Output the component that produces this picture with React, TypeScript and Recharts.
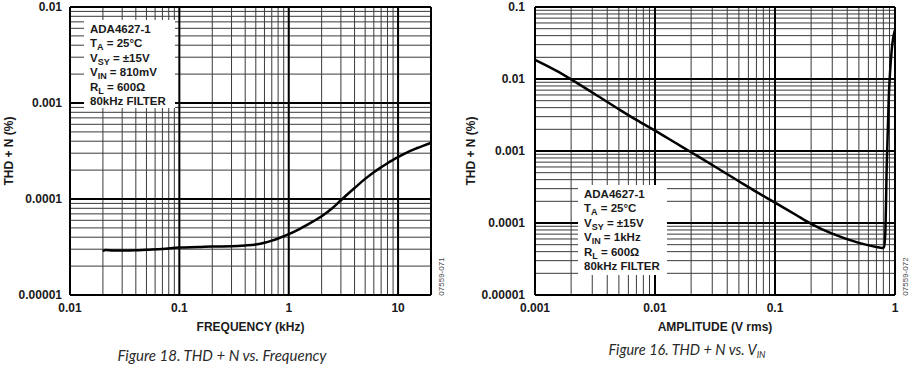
import React from "react";
import {
  LineChart,
  Line,
  XAxis,
  YAxis,
  CartesianGrid,
  ReferenceLine,
} from "recharts";

// Figure 18: THD + N vs. frequency
const freqKHz = [
  0.02, 0.021, 0.025, 0.03, 0.04, 0.05, 0.07, 0.1, 0.15, 0.2, 0.3, 0.4, 0.5,
  0.6, 0.7, 0.8, 1, 1.2, 1.5, 2, 2.5, 3, 4, 5, 6, 7, 8, 10, 12, 15, 20,
];
const thdFreq = [
  0.0000285, 0.0000295, 0.000029, 0.000029, 0.0000292, 0.0000296, 0.0000302,
  0.0000312, 0.0000316, 0.000032, 0.0000322, 0.0000328, 0.0000336, 0.000035,
  0.0000368, 0.0000388, 0.000043, 0.0000475, 0.0000545, 0.000066, 0.00008,
  0.000097, 0.00013, 0.000162, 0.00019, 0.000214, 0.000236, 0.000273, 0.000305,
  0.00034, 0.000385,
];

// Figure 16: THD + N vs. amplitude
const ampVrms = [
  0.001, 0.0015, 0.002, 0.003, 0.005, 0.007, 0.01, 0.015, 0.02, 0.03, 0.05,
  0.07, 0.1, 0.15, 0.2, 0.3, 0.5, 0.7, 0.78, 0.81, 0.83, 0.853, 0.886, 0.939,
  1,
];
const thdAmp = [
  0.0185, 0.0131, 0.0099, 0.0065, 0.0038, 0.0027, 0.00192, 0.00128, 0.00096,
  0.00064, 0.00038, 0.00027, 0.000192, 0.000129, 0.0000975, 0.000071, 0.000053,
  0.0000465, 0.000045, 0.000046, 0.000072, 0.0006, 0.0051, 0.0253, 0.048,
];

const freqTicks = [
  0.01, 0.02, 0.03, 0.04, 0.05, 0.06, 0.07, 0.08, 0.09, 0.1, 0.2, 0.3, 0.4,
  0.5, 0.6, 0.7, 0.8, 0.9, 1, 2, 3, 4, 5, 6, 7, 8, 9, 10, 20,
];
const freqDecades = [0.01, 0.1, 1, 10];

const ampTicks = [
  0.001, 0.002, 0.003, 0.004, 0.005, 0.006, 0.007, 0.008, 0.009, 0.01, 0.02,
  0.03, 0.04, 0.05, 0.06, 0.07, 0.08, 0.09, 0.1, 0.2, 0.3, 0.4, 0.5, 0.6, 0.7,
  0.8, 0.9, 1,
];
const ampDecades = [0.001, 0.01, 0.1, 1];

const thdTicksA = [
  0.00001, 0.00002, 0.00003, 0.00004, 0.00005, 0.00006, 0.00007, 0.00008,
  0.00009, 0.0001, 0.0002, 0.0003, 0.0004, 0.0005, 0.0006, 0.0007, 0.0008,
  0.0009, 0.001, 0.002, 0.003, 0.004, 0.005, 0.006, 0.007, 0.008, 0.009, 0.01,
];
const thdDecadesA = [0.00001, 0.0001, 0.001, 0.01];

const thdTicksB = [
  ...thdTicksA.slice(0, -1),
  0.01, 0.02, 0.03, 0.04, 0.05, 0.06, 0.07, 0.08, 0.09, 0.1,
];
const thdDecadesB = [0.00001, 0.0001, 0.001, 0.01, 0.1];

const freqData = freqKHz.map((x, i) => ({ x, y: thdFreq[i] }));
const ampData = ampVrms.map((x, i) => ({ x, y: thdAmp[i] }));

const FONT = "'Liberation Sans', Arial, sans-serif";
const tickStyle = { fill: "#1a1a1a", fontSize: 12, fontWeight: 700, fontFamily: FONT };
const titleStyle = { fill: "#1a1a1a", fontSize: 12, fontWeight: 700, fontFamily: FONT };

const onlyDecades = (decades: number[]) => (v: number) =>
  decades.includes(v) ? String(v) : "";

function InfoBox({
  left,
  top,
  width,
  height,
  vin,
}: {
  left: number;
  top: number;
  width: number;
  height: number;
  vin: string;
}) {
  const sub = { fontSize: 9, verticalAlign: "-3px", lineHeight: 0 } as const;
  return (
    <div
      style={{
        position: "absolute",
        left,
        top,
        width,
        height,
        background: "#fff",
        fontFamily: FONT,
        fontWeight: 700,
        fontSize: 11.5,
        lineHeight: "14.4px",
        color: "#1a1a1a",
        paddingLeft: 6,
        paddingTop: 2,
        boxSizing: "border-box",
        whiteSpace: "nowrap",
      }}
    >
      <div>ADA4627-1</div>
      <div>
        T<span style={sub}>A</span> = 25°C
      </div>
      <div>
        V<span style={sub}>SY</span> = ±15V
      </div>
      <div>
        V<span style={sub}>IN</span> = {vin}
      </div>
      <div>
        R<span style={sub}>L</span> = 600Ω
      </div>
      <div>80kHz FILTER</div>
    </div>
  );
}

function CodeTag({ x, text }: { x: number; text: string }) {
  return (
    <div
      style={{
        position: "absolute",
        left: x - 20,
        top: 272,
        width: 40,
        textAlign: "center",
        fontFamily: FONT,
        fontSize: 8,
        color: "#444",
        transform: "rotate(-90deg)",
      }}
    >
      {text}
    </div>
  );
}

function Caption({
  cx,
  top,
  size,
  children,
}: {
  cx: number;
  top: number;
  size: number;
  children: React.ReactNode;
}) {
  return (
    <div
      style={{
        position: "absolute",
        left: cx - 150,
        top,
        width: 300,
        textAlign: "center",
        fontFamily: "Lato, 'Open Sans', sans-serif",
        fontStyle: "italic",
        fontSize: size,
        lineHeight: "20px",
        color: "#2a2a2a",
      }}
    >
      {children}
    </div>
  );
}

export default function App() {
  return (
    <div
      style={{
        position: "absolute",
        left: 0,
        top: 0,
        width: 920,
        height: 370,
        background: "#fff",
        overflow: "hidden",
      }}
    >
      <div style={{ position: "absolute", left: 0, top: 0 }}>
        <LineChart
          width={450}
          height={340}
          data={freqData}
          margin={{ top: 7, right: 19, bottom: 0, left: 0 }}
        >
          <CartesianGrid stroke="#3a3a3a" strokeWidth={1} />
          <XAxis
            dataKey="x"
            type="number"
            scale="log"
            domain={[0.01, 20]}
            ticks={freqTicks}
            interval={0}
            tickFormatter={onlyDecades(freqDecades)}
            tick={tickStyle}
            tickLine={false}
            tickSize={0}
            tickMargin={8}
            axisLine={{ stroke: "#000", strokeWidth: 2 }}
            height={45}
            allowDataOverflow
            label={{ value: "FREQUENCY (kHz)", position: "insideBottom", offset: 9, style: titleStyle }}
          />
          <YAxis
            dataKey="y"
            type="number"
            scale="log"
            domain={[0.00001, 0.01]}
            ticks={thdTicksA}
            interval={0}
            tickFormatter={onlyDecades(thdDecadesA)}
            tick={tickStyle}
            tickLine={false}
            tickSize={0}
            tickMargin={8}
            axisLine={{ stroke: "#000", strokeWidth: 2 }}
            width={70}
            allowDataOverflow
            label={{ value: "THD + N (%)", angle: -90, position: "insideLeft", offset: 9, style: { ...titleStyle, textAnchor: "middle" } }}
          />
          {freqDecades.map((d) => (
            <ReferenceLine key={"fx" + d} x={d} stroke="#000" strokeWidth={2} />
          ))}
          <ReferenceLine x={20} stroke="#000" strokeWidth={2} />
          {thdDecadesA.map((d) => (
            <ReferenceLine key={"fy" + d} y={d} stroke="#000" strokeWidth={2} />
          ))}
          <Line
            dataKey="y"
            type="monotone"
            stroke="#000"
            strokeWidth={2.5}
            dot={false}
            isAnimationActive={false}
          />
        </LineChart>
      </div>

      <div style={{ position: "absolute", left: 460, top: 0 }}>
        <LineChart
          width={450}
          height={340}
          data={ampData}
          margin={{ top: 7, right: 15, bottom: 0, left: 0 }}
        >
          <CartesianGrid stroke="#3a3a3a" strokeWidth={1} />
          <XAxis
            dataKey="x"
            type="number"
            scale="log"
            domain={[0.001, 1]}
            ticks={ampTicks}
            interval={0}
            tickFormatter={onlyDecades(ampDecades)}
            tick={tickStyle}
            tickLine={false}
            tickSize={0}
            tickMargin={8}
            axisLine={{ stroke: "#000", strokeWidth: 2 }}
            height={45}
            allowDataOverflow
            label={{ value: "AMPLITUDE (V rms)", position: "insideBottom", offset: 9, style: titleStyle }}
          />
          <YAxis
            dataKey="y"
            type="number"
            scale="log"
            domain={[0.00001, 0.1]}
            ticks={thdTicksB}
            interval={0}
            tickFormatter={onlyDecades(thdDecadesB)}
            tick={tickStyle}
            tickLine={false}
            tickSize={0}
            tickMargin={10}
            axisLine={{ stroke: "#000", strokeWidth: 2 }}
            width={75}
            allowDataOverflow
            label={{ value: "THD + N (%)", angle: -90, position: "insideLeft", offset: 11, style: { ...titleStyle, textAnchor: "middle" } }}
          />
          {ampDecades.map((d) => (
            <ReferenceLine key={"ax" + d} x={d} stroke="#000" strokeWidth={2} />
          ))}
          {thdDecadesB.map((d) => (
            <ReferenceLine key={"ay" + d} y={d} stroke="#000" strokeWidth={2} />
          ))}
          <Line
            dataKey="y"
            type="monotone"
            stroke="#000"
            strokeWidth={2.5}
            dot={false}
            isAnimationActive={false}
          />
        </LineChart>
      </div>

      <InfoBox left={84} top={20} width={91} height={88} vin="810mV" />
      <InfoBox left={578} top={185} width={89} height={90} vin="1kHz" />

      <CodeTag x={441} text="07559-071" />
      <CodeTag x={905} text="07559-072" />

      <Caption cx={222} top={345} size={15}>
        Figure 18. THD + N vs. Frequency
      </Caption>
      <Caption cx={687} top={340} size={14.5}>
        Figure 16. THD + N vs. V
        <span style={{ fontSize: 9, verticalAlign: "-3px" }}>IN</span>
      </Caption>
    </div>
  );
}
